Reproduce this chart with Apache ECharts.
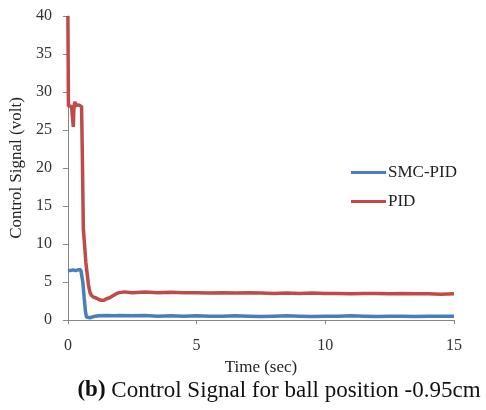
<!DOCTYPE html>
<html>
<head>
<meta charset="utf-8">
<script src="https://cdn.jsdelivr.net/npm/echarts@6/dist/echarts.min.js"></script>
<style>
  html, body { margin: 0; padding: 0; background: #fff; }
  #chart { width: 486px; height: 410px; }
</style>
</head>
<body>
<div id="chart"></div>
<script>
// Control signal (volt) versus time (sec), [time, value] pairs
const smcPid = [
  [0, 6.5], [0.1, 6.5], [0.2, 6.6], [0.3, 6.5], [0.4, 6.6], [0.5, 6.6], [0.54, 6.4],
  [0.58, 5.0], [0.63, 3.0], [0.68, 1.2], [0.72, 0.4], [0.76, 0.25], [0.85, 0.3],
  [1.0, 0.45], [1.2, 0.55], [1.5, 0.6], [1.8, 0.55], [2.0, 0.6], [2.5, 0.55],
  [3.0, 0.6], [3.5, 0.5], [4.0, 0.55], [4.5, 0.5], [5.0, 0.55], [5.5, 0.5],
  [6.0, 0.5], [6.5, 0.55], [7.0, 0.5], [7.5, 0.45], [8.0, 0.5], [8.5, 0.55],
  [9.0, 0.5], [9.5, 0.45], [10.0, 0.5], [10.5, 0.5], [11.0, 0.55], [11.5, 0.5],
  [12.0, 0.45], [12.5, 0.5], [13.0, 0.5], [13.5, 0.45], [14.0, 0.5], [14.5, 0.5],
  [15.0, 0.5]
];
const pid = [
  [0, 40], [0.02, 28.2], [0.08, 28.0], [0.14, 28.1], [0.19, 27.9], [0.21, 25.4],
  [0.23, 27.6], [0.25, 28.4], [0.28, 28.7], [0.31, 28.2], [0.36, 28.4], [0.42, 28.3],
  [0.48, 28.5], [0.53, 28.1], [0.56, 22.0], [0.6, 12.0], [0.7, 7.5], [0.8, 4.6],
  [0.86, 3.6], [0.92, 3.2], [1.0, 3.0], [1.1, 2.9], [1.2, 2.7], [1.3, 2.6],
  [1.4, 2.6], [1.5, 2.8], [1.6, 2.9], [1.7, 3.1], [1.8, 3.3], [1.9, 3.5],
  [2.0, 3.6], [2.2, 3.7], [2.5, 3.6], [3.0, 3.7], [3.5, 3.6], [4.0, 3.65],
  [4.5, 3.6], [5.0, 3.6], [5.5, 3.55], [6.0, 3.6], [6.5, 3.55], [7.0, 3.6],
  [7.5, 3.55], [8.0, 3.5], [8.5, 3.55], [9.0, 3.5], [9.5, 3.55], [10.0, 3.5],
  [10.5, 3.5], [11.0, 3.45], [11.5, 3.5], [12.0, 3.5], [12.5, 3.45], [13.0, 3.5],
  [13.5, 3.45], [14.0, 3.45], [14.5, 3.4], [15.0, 3.45]
];
const seriesNames = ['SMC-PID', 'PID'];
const seriesColors = ['#4a7ebb', '#be4b48'];

const serif = '"Liberation Serif", "Times New Roman", serif';
const chart = echarts.init(document.getElementById('chart'));
chart.setOption({
  animation: false,
  backgroundColor: '#fff',
  grid: { left: 65, right: 32, top: 16, bottom: 90 },
  title: {
    text: '{b|(b)} Control Signal for ball position -0.95cm',
    left: 274, top: 374, textAlign: 'center',
    textStyle: {
      fontFamily: serif, fontSize: 23, fontWeight: 'normal', color: '#111',
      rich: { b: { fontFamily: serif, fontSize: 23, fontWeight: 'bold', color: '#111' } }
    }
  },
  legend: {
    orient: 'vertical', left: 346, top: 159, itemWidth: 35, itemHeight: 3,
    itemGap: 12, icon: 'rect',
    textStyle: { fontFamily: serif, fontSize: 17, color: '#222', padding: [0, 0, 0, -3] },
    data: seriesNames
  },
  xAxis: {
    type: 'value', min: 0, max: 15, interval: 5,
    name: 'Time (sec)', nameLocation: 'middle', nameGap: 33,
    nameTextStyle: { fontFamily: serif, fontSize: 17, color: '#222' },
    axisLine: { lineStyle: { color: '#868686', width: 1 } },
    axisTick: { show: true, length: 4, lineStyle: { color: '#868686' } },
    axisLabel: { fontFamily: serif, fontSize: 16, color: '#333', margin: 18 },
    splitLine: { show: false }
  },
  yAxis: {
    type: 'value', min: 0, max: 40, interval: 5,
    name: 'Control Signal (volt)', nameLocation: 'middle', nameGap: 40,
    nameTextStyle: { fontFamily: serif, fontSize: 17, color: '#222' },
    axisLine: { show: true, lineStyle: { color: '#868686', width: 1 } },
    axisTick: { show: true, length: 5, lineStyle: { color: '#868686' } },
    axisLabel: { fontFamily: serif, fontSize: 16, color: '#333', margin: 16 },
    splitLine: { show: false }
  },
  series: [
    { name: seriesNames[0], type: 'line', data: smcPid, showSymbol: false, symbol: 'none',
      itemStyle: { color: seriesColors[0] }, lineStyle: { color: seriesColors[0], width: 3.5 } },
    { name: seriesNames[1], type: 'line', data: pid, showSymbol: false, symbol: 'none',
      itemStyle: { color: seriesColors[1] }, lineStyle: { color: seriesColors[1], width: 3.5 } }
  ]
});
</script>
</body>
</html>
